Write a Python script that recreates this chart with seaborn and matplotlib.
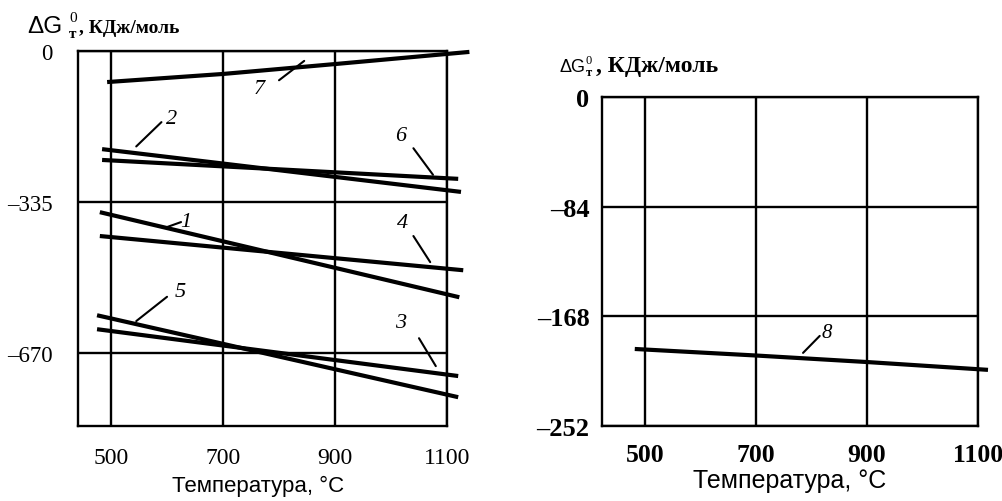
import numpy as np
import pandas as pd
import matplotlib
matplotlib.use("Agg")
import matplotlib.pyplot as plt
import seaborn as sns

# ---- data ----
left_curves = ["1", "2", "3", "4", "5", "6", "7"]
left_T = {
    "1": [480, 1122],
    "2": [484, 1125],
    "3": [475, 1120],
    "4": [480, 1129],
    "5": [475, 1120],
    "6": [484, 1120],
    "7": [493, 700, 900, 1140],
}
left_G = {
    "1": [-358, -547],
    "2": [-218, -313],
    "3": [-618, -722],
    "4": [-411, -487],
    "5": [-587, -769],
    "6": [-242, -284],
    "7": [-69, -51, -29, -2],
}
right_curves = ["8"]
right_T = {"8": [482, 700, 900, 1118]}
right_G = {"8": [-193, -198, -203, -209]}

x_ticks = [500, 700, 900, 1100]
x_ticklabels = ["500", "700", "900", "1100"]
left_yticks = [0, -335, -670]
left_yticklabels = ["0", "\u2013335", "\u2013670"]
right_yticks = [0, -84, -168, -252]
right_yticklabels = ["0", "\u201384", "\u2013168", "\u2013252"]
xlabel = "Температура, °C"
ylabel_main = "ΔG"
ylabel_sub = "т"
ylabel_sup = "0"
ylabel_rest = ", КДж/моль"

# label annotations: (label, text pos (T,G), leader start, leader end)
left_labels = [
    ("7", (765, -84), (800, -65), (845, -22)),
    ("2", (608, -150), (545, -212), (590, -158)),
    ("6", (1018, -188), (1040, -216), (1075, -275)),
    ("1", (634, -378), (598, -392), (625, -380)),
    ("4", (1020, -380), (1040, -411), (1070, -469)),
    ("5", (623, -535), (545, -600), (600, -546)),
    ("3", (1018, -603), (1050, -638), (1080, -700)),
]
right_labels = [
    ("8", (828, -180), (785, -196), (815, -183)),
]

W, H = 1002, 502
sns.set_theme(style="white")
plt.rcParams["font.family"] = ["Liberation Serif", "DejaVu Serif"]
fig = plt.figure(figsize=(W / 100, H / 100), dpi=100)
fig.patch.set_facecolor("white")


def px_axes(l, t, r, b):
    return fig.add_axes([l / W, 1 - b / H, (r - l) / W, (b - t) / H])


def make_df(curves, Td, Gd):
    rows = []
    for c in curves:
        for t, g in zip(Td[c], Gd[c]):
            rows.append({"T": t, "G": g, "curve": c})
    return pd.DataFrame(rows)


def style_axes(ax, xlim, ylim, yticks, yticklabels, ytick_size, xtick_size, weight, ypad, xpad):
    ax.set_xlim(*xlim)
    ax.set_ylim(*ylim)
    ax.set_xticks(x_ticks)
    ax.set_xticklabels(x_ticklabels, fontsize=xtick_size, fontweight=weight)
    ax.set_yticks(yticks)
    ax.set_yticklabels(yticklabels, fontsize=ytick_size, fontweight=weight)
    ax.tick_params(axis="both", length=0, colors="black")
    ax.tick_params(axis="y", pad=ypad)
    ax.tick_params(axis="x", pad=xpad)
    ax.grid(True, color="black", linewidth=1.7)
    for s in ax.spines.values():
        s.set_visible(True)
        s.set_color("black")
        s.set_linewidth(1.7)
    ax.set_xlabel("")
    ax.set_ylabel("")
    ax.set_facecolor("white")


def draw(ax, df, curves):
    sns.lineplot(data=df, x="T", y="G", hue="curve", units="curve", estimator=None,
                 palette={c: "black" for c in curves}, linewidth=3.0, legend=False,
                 sort=False, ax=ax)
    for ln in ax.get_lines():
        ln.set_clip_on(False)
        ln.set_solid_capstyle("butt")


def annotate(ax, labels, size):
    for lab, (tx, ty), (x0, y0), (x1, y1) in labels:
        ax.plot([x0, x1], [y0, y1], color="black", linewidth=1.5, clip_on=False)
        ax.text(tx, ty, lab, fontsize=size, fontstyle="italic", ha="center", va="center",
                color="black")


def ftext(x, y, s, **kw):
    fig.text(x / W, 1 - y / H, s, **kw)


# ---- left panel ----
axL = px_axes(78, 52, 447, 427)
draw(axL, make_df(left_curves, left_T, left_G), left_curves)
style_axes(axL, (441, 1100), (-833, 0), left_yticks, left_yticklabels, 16.5, 17, "normal", 18, 15)
annotate(axL, left_labels, 16)
ftext(258, 476, xlabel, ha="center", va="top", fontsize=16,
      family=["Liberation Sans", "DejaVu Sans"], color="black")

# ---- right panel ----
axR = px_axes(602, 98, 978, 427)
draw(axR, make_df(right_curves, right_T, right_G), right_curves)
style_axes(axR, (423, 1100), (-252, 0), right_yticks, right_yticklabels, 19, 18.5, "bold", 9, 12)
annotate(axR, right_labels, 15)
ftext(790, 469, xlabel, ha="center", va="top", fontsize=18,
      family=["Liberation Sans", "DejaVu Sans"], color="black")


# y-axis titles: ΔG with subscript т and superscript 0, placed piece by piece
def ytitle(x_main, x_idx, x_rest, y_base, big, small, rest_size):
    ftext(x_main, y_base, ylabel_main, fontsize=big, family=["Liberation Sans", "DejaVu Sans"],
          va="baseline", ha="left", color="black")
    ftext(x_idx, y_base + small * 0.45, ylabel_sub, fontsize=small, va="baseline", ha="left",
          color="black", fontweight="bold")
    ftext(x_idx, y_base - big * 0.65, ylabel_sup, fontsize=small, va="baseline", ha="left",
          color="black")
    ftext(x_rest, y_base, ylabel_rest, fontsize=rest_size, va="baseline", ha="left",
          color="black", fontweight="bold")


ytitle(27, 69, 79, 33, 17.5, 11, 14)
ytitle(560, 586, 596, 72, 13, 9, 17)

fig.savefig("out.png", dpi=100, facecolor="white")
